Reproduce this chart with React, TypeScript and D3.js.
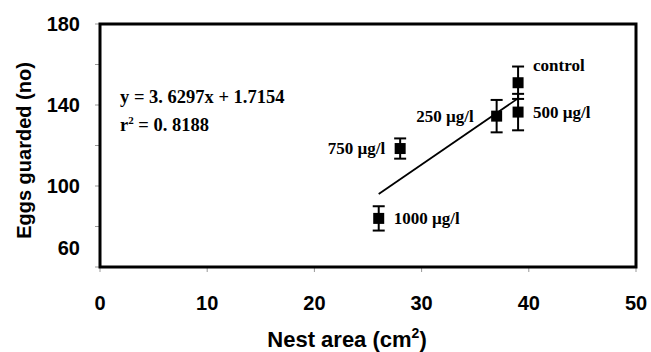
import { useEffect, useRef } from "react";
import * as d3 from "d3";

// treatment labels, nest area (cm2), eggs guarded (no) and error (+/-)
const groups = ["control", "500 µg/l", "250 µg/l", "750 µg/l", "1000 µg/l"];
const nestArea = [39, 39, 37, 28, 26];
const eggs = [151, 136.5, 134.5, 118.5, 84];
const errs = [8, 9, 8, 5, 6];
const labelSide = ["right", "right", "left", "left", "right"];

const xTicks = [0, 10, 20, 30, 40, 50];
const yTicks = [60, 80, 100, 120, 140, 160, 180];
const yLabels = [60, 100, 140, 180];

const slope = 3.6297;
const intercept = 1.7154;

export default function App() {
    const svgRef = useRef<SVGSVGElement>(null);

    useEffect(() => {
        const W = 651;
        const H = 352;
        const m = { top: 24, right: 15, bottom: 85, left: 100 };

        const svg = d3.select(svgRef.current);
        svg.selectAll("*").remove();
        svg.attr("width", W).attr("height", H);

        svg.append("rect").attr("width", W).attr("height", H).attr("fill", "#fff");

        const x = d3.scaleLinear().domain([0, 50]).range([m.left, W - m.right]);
        const y = d3.scaleLinear().domain([60, 180]).range([H - m.bottom, m.top]);

        // axis ticks (small gray marks)
        svg.append("g")
            .selectAll("line")
            .data(xTicks)
            .join("line")
            .attr("x1", (d) => x(d))
            .attr("x2", (d) => x(d))
            .attr("y1", y(60))
            .attr("y2", y(60) + 5)
            .attr("stroke", "#999")
            .attr("stroke-width", 1);

        svg.append("g")
            .selectAll("line")
            .data(yTicks)
            .join("line")
            .attr("x1", x(0) - 5)
            .attr("x2", x(0))
            .attr("y1", (d) => y(d))
            .attr("y2", (d) => y(d))
            .attr("stroke", "#999")
            .attr("stroke-width", 1);

        // tick labels
        svg.append("g")
            .selectAll("text")
            .data(xTicks)
            .join("text")
            .attr("x", (d) => x(d))
            .attr("y", y(60) + 43)
            .attr("text-anchor", "middle")
            .style("font", "bold 20px Arial, 'Liberation Sans', sans-serif")
            .text((d) => d);

        svg.append("g")
            .selectAll("text")
            .data(yLabels)
            .join("text")
            .attr("x", x(0) - 20)
            // the bottom label sits above its tick in the original
            .attr("y", (d) => y(d) + (d === 60 ? -19 : 0))
            .attr("dy", "0.36em")
            .attr("text-anchor", "end")
            .style("font", "bold 20px Arial, 'Liberation Sans', sans-serif")
            .text((d) => d);

        // axis titles
        const xt = svg.append("text")
            .attr("x", 347)
            .attr("y", H - 5)
            .attr("text-anchor", "middle")
            .style("font", "bold 22px Arial, 'Liberation Sans', sans-serif");
        xt.append("tspan").text("Nest area (cm");
        xt.append("tspan").attr("dy", -9).style("font-size", "14px").text("2");
        xt.append("tspan").attr("dy", 9).text(")");

        svg.append("text")
            .attr("transform", `translate(31, ${(y(60) + y(180)) / 2 + 5}) rotate(-90)`)
            .attr("text-anchor", "middle")
            .style("font", "bold 20px Arial, 'Liberation Sans', sans-serif")
            .text("Eggs guarded (no)");

        // regression line
        const lineX = [d3.min(nestArea)!, d3.max(nestArea)!];
        svg.append("path")
            .attr("d", d3.line<number>()
                .x((d) => x(d))
                .y((d) => y(slope * d + intercept))(lineX))
            .attr("fill", "none")
            .attr("stroke", "#000")
            .attr("stroke-width", 1.8);

        // error bars
        const eb = svg.append("g").attr("stroke", "#000").attr("stroke-width", 2);
        groups.forEach((g, i) => {
            const cx = x(nestArea[i]);
            const top = y(eggs[i] + errs[i]);
            const bot = y(eggs[i] - errs[i]);
            eb.append("line").attr("x1", cx).attr("x2", cx).attr("y1", top).attr("y2", bot);
            eb.append("line").attr("x1", cx - 6).attr("x2", cx + 6).attr("y1", top).attr("y2", top);
            eb.append("line").attr("x1", cx - 6).attr("x2", cx + 6).attr("y1", bot).attr("y2", bot);
        });

        // markers
        const s = 11;
        svg.append("g")
            .selectAll("rect")
            .data(groups)
            .join("rect")
            .attr("x", (d, i) => x(nestArea[i]) - s / 2)
            .attr("y", (d, i) => y(eggs[i]) - s / 2)
            .attr("width", s)
            .attr("height", s)
            .attr("fill", "#000");

        // point labels (250 sits a bit further off its error bar)
        svg.append("g")
            .selectAll("text")
            .data(groups)
            .join("text")
            .attr("x", (d, i) => x(nestArea[i]) + (labelSide[i] === "right" ? 15 : i === 2 ? -23 : -15))
            .attr("y", (d, i) => y(eggs[i]) + (i === 0 ? -18 : 0))
            .attr("dy", "0.35em")
            .attr("text-anchor", (d, i) => (labelSide[i] === "right" ? "start" : "end"))
            .style("font", "bold 17px 'Times New Roman', 'Liberation Serif', serif")
            .text((d) => d);

        // equation
        svg.append("text")
            .attr("x", 120)
            .attr("y", 103)
            .style("font", "bold 18.5px 'Times New Roman', 'Liberation Serif', serif")
            .text("y = 3. 6297x + 1.7154");
        const r2 = svg.append("text")
            .attr("x", 120)
            .attr("y", 131)
            .style("font", "bold 18.5px 'Times New Roman', 'Liberation Serif', serif");
        r2.append("tspan").text("r");
        r2.append("tspan").attr("dy", -7).style("font-size", "11px").text("2");
        r2.append("tspan").attr("dy", 7).text(" = 0. 8188");

        // plot frame
        svg.append("rect")
            .attr("x", x(0))
            .attr("y", y(180))
            .attr("width", x(50) - x(0))
            .attr("height", y(60) - y(180))
            .attr("fill", "none")
            .attr("stroke", "#000")
            .attr("stroke-width", 3);
    }, []);

    return (
        <svg
            ref={svgRef}
            style={{ position: "absolute", left: 0, top: 0, display: "block" }}
        ></svg>
    );
}
